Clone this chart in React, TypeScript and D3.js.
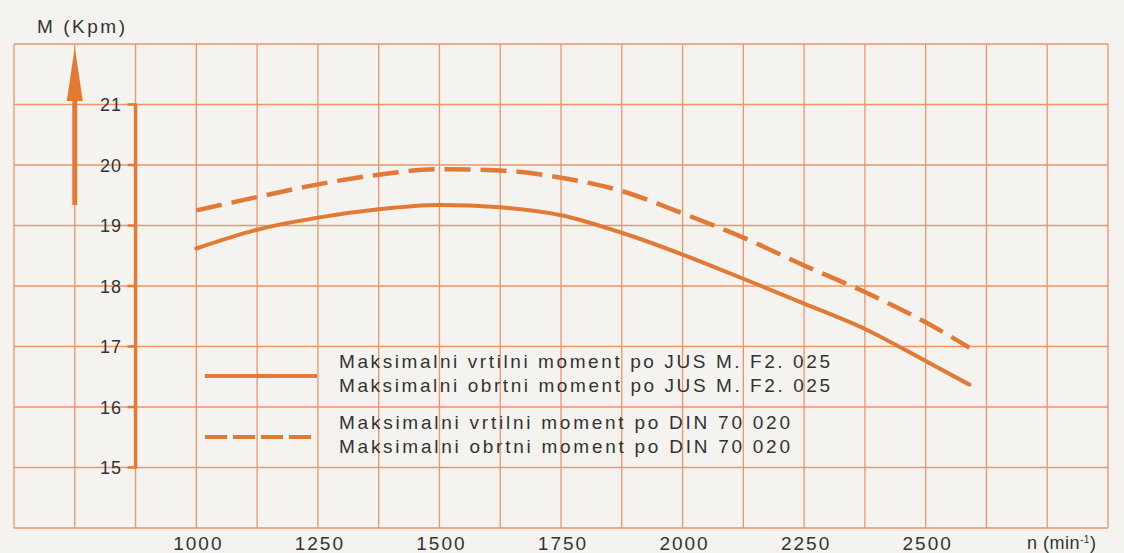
import React from "react";
import * as d3 from "d3";

const rpm = [1000, 1125, 1250, 1375, 1500, 1625, 1750, 1875, 2000, 2125, 2250, 2375, 2500, 2590];
const jusTorque = [18.62, 18.93, 19.13, 19.27, 19.34, 19.3, 19.17, 18.88, 18.52, 18.12, 17.71, 17.29, 16.76, 16.37];
const dinTorque = [19.25, 19.47, 19.68, 19.84, 19.93, 19.91, 19.79, 19.57, 19.2, 18.8, 18.34, 17.9, 17.4, 16.98];
const xTicks = [1000, 1250, 1500, 1750, 2000, 2250, 2500];
const yTicks = [15, 16, 17, 18, 19, 20, 21];
const legendJus = ["Maksimalni vrtilni moment po JUS M. F2. 025", "Maksimalni obrtni moment po JUS M. F2. 025"];
const legendDin = ["Maksimalni vrtilni moment po DIN 70 020", "Maksimalni obrtni moment po DIN 70 020"];

const W = 1124, H = 553;
const ORANGE = "#e27a36";
const GRID = "#ee9468";
const TEXT = "#333333";
const FONT = "'Liberation Sans', Arial, Helvetica, sans-serif";

export default function App() {
  const x = d3.scaleLinear().domain([625, 2875]).range([14, 1108]);
  const y = d3.scaleLinear().domain([14, 22]).range([528, 44]);
  const xGrid = d3.range(625, 2876, 125);
  const yGrid = d3.range(14, 22.01, 1);
  const line = d3.line<number>().x((_, i) => x(rpm[i])).y((v) => y(v)).curve(d3.curveMonotoneX);
  const axisX = x(875);
  const arrowX = x(750);

  return (
    <svg width={W} height={H} style={{ position: "fixed", left: 0, top: 0, background: "#f4f3ef" }} fontFamily={FONT}>
      <rect width={W} height={H} fill="#f4f3ef" />
      {/* grid */}
      {xGrid.map((v) => (
        <line key={"gx" + v} x1={x(v)} x2={x(v)} y1={y(22)} y2={y(14)} stroke={GRID} strokeWidth={1.3} />
      ))}
      {yGrid.map((v) => (
        <line key={"gy" + v} x1={x(625)} x2={x(2875)} y1={y(v)} y2={y(v)} stroke={GRID} strokeWidth={1.3} />
      ))}
      {/* title */}
      <text x={37} y={33} fontSize={19} fill={TEXT} textLength={88} lengthAdjust="spacing">M (Kpm)</text>
      {/* arrow */}
      <line x1={arrowX} x2={arrowX} y1={205} y2={98} stroke={ORANGE} strokeWidth={5} />
      <path d={`M${arrowX},47 L${arrowX - 8},101 L${arrowX + 8},101 Z`} fill={ORANGE} />
      {/* y axis */}
      <line x1={axisX} x2={axisX} y1={y(21) - 1} y2={y(15) + 1} stroke={ORANGE} strokeWidth={3.5} />
      {yTicks.map((v) => (
        <g key={"yt" + v}>
          <line x1={axisX - 8} x2={axisX} y1={y(v)} y2={y(v)} stroke={ORANGE} strokeWidth={2.5} />
          <text x={122} y={y(v) + 6.5} fontSize={18} fill={TEXT} textAnchor="end" letterSpacing={1}>{v}</text>
        </g>
      ))}
      {/* x tick labels */}
      {xTicks.map((v) => (
        <text key={"xt" + v} x={x(v) + 2} y={550} fontSize={19} fill={TEXT} textAnchor="middle" letterSpacing={2}>{v}</text>
      ))}
      <text x={1027} y={549} fontSize={18} fill={TEXT} letterSpacing={0.5}>
        n (min<tspan fontSize={10} dy={-6}>-1</tspan><tspan dy={6}>)</tspan>
      </text>
      {/* curves */}
      <path d={line(jusTorque) || ""} fill="none" stroke={ORANGE} strokeWidth={4} strokeLinecap="round" />
      <path d={line(dinTorque) || ""} fill="none" stroke={ORANGE} strokeWidth={4.5} strokeDasharray="26 10" />
      {/* legend */}
      <line x1={205} x2={317} y1={376} y2={376} stroke={ORANGE} strokeWidth={4} />
      <line x1={205} x2={317} y1={437} y2={437} stroke={ORANGE} strokeWidth={4} strokeDasharray="22 6" />
      {legendJus.map((t, i) => (
        <text key={"lj" + i} x={339} y={368 + i * 24} fontSize={19} fill={TEXT} textLength={491} lengthAdjust="spacing">{t}</text>
      ))}
      {legendDin.map((t, i) => (
        <text key={"ld" + i} x={339} y={429 + i * 24} fontSize={19} fill={TEXT} textLength={451} lengthAdjust="spacing">{t}</text>
      ))}
    </svg>
  );
}
